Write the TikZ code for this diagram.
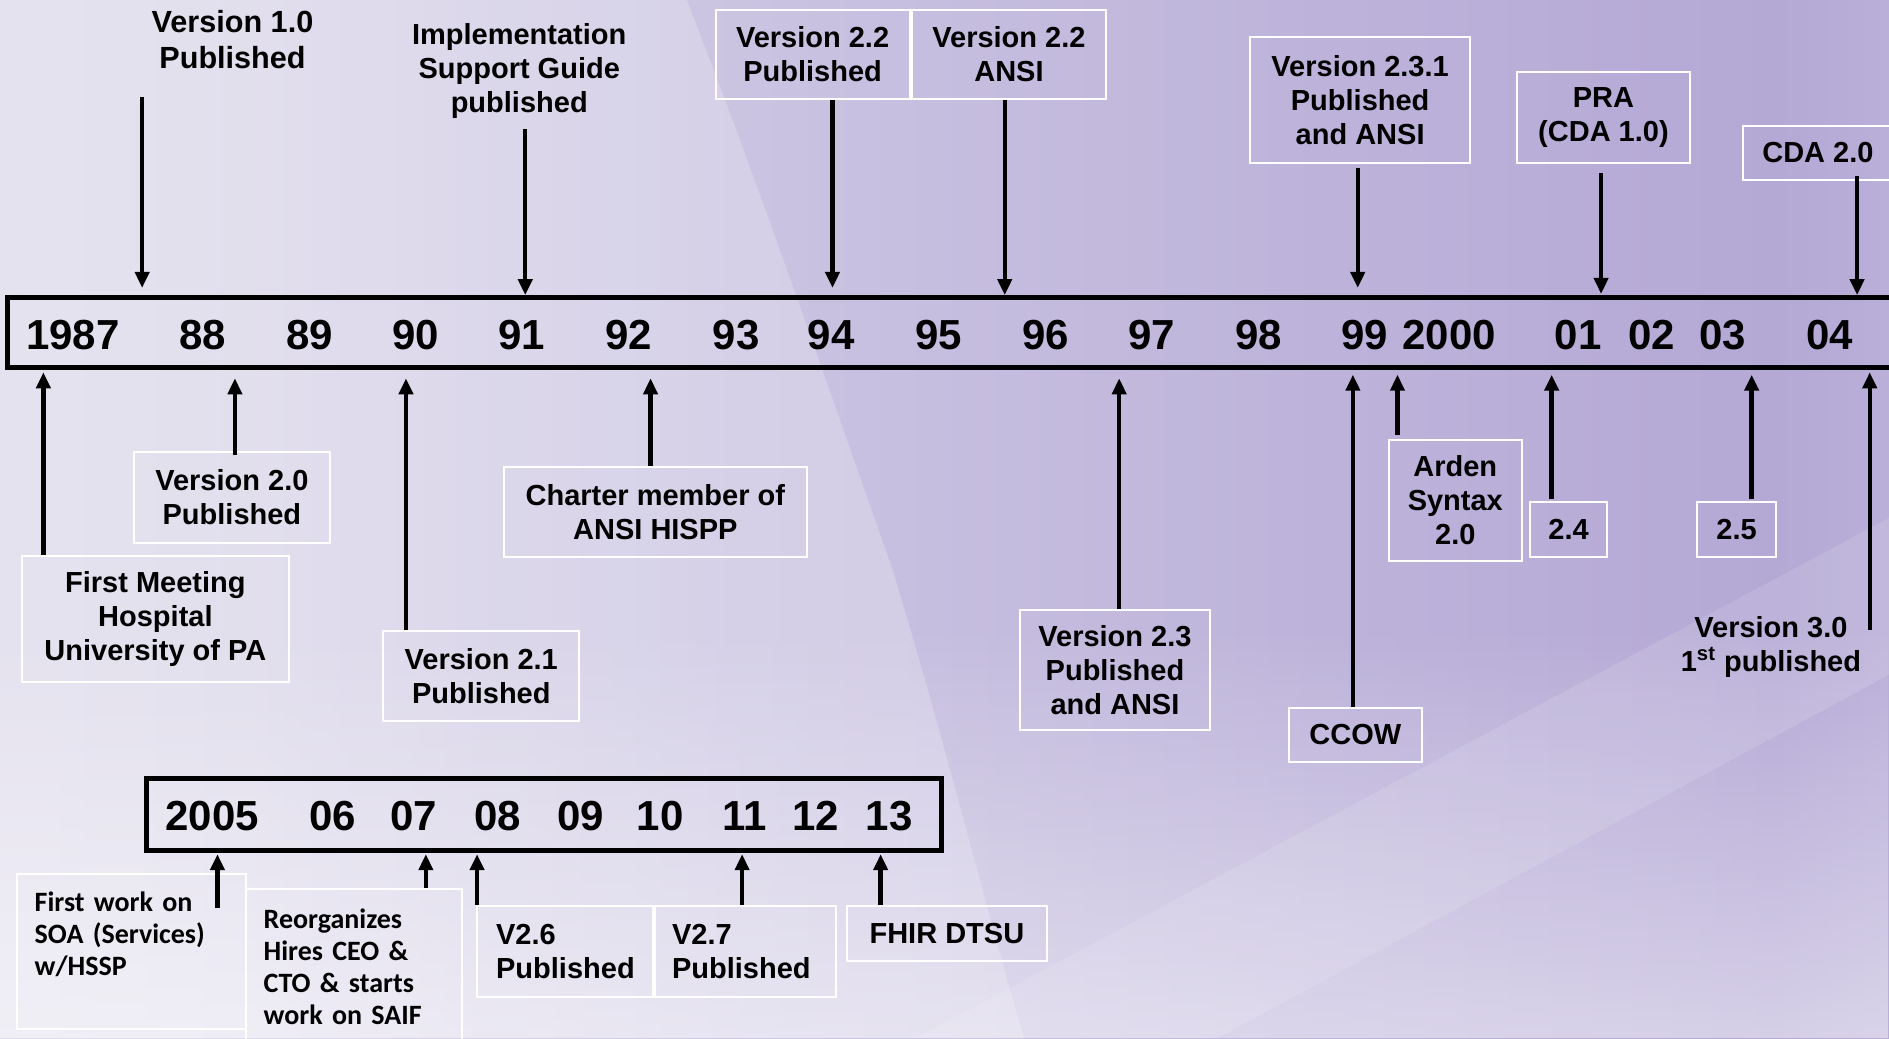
\documentclass[tikz,border=0pt]{standalone}
\usepackage{fontspec}
\setmainfont{Liberation Sans}
\newfontfamily\calfont{Carlito}
\usetikzlibrary{arrows.meta,positioning,calc,fadings}
\definecolor{WashA}{HTML}{E9E8F0}
\definecolor{WashB}{HTML}{DCD8EA}
\definecolor{WashC}{HTML}{CAC3E1}
\definecolor{WashD}{HTML}{BDB3DA}
\definecolor{WashE}{HTML}{B4A8D5}
\definecolor{WashF}{HTML}{C3BBDE}
\definecolor{WashG}{HTML}{D6D1E7}
\definecolor{WashH}{HTML}{DEDAEC}
\newlength{\pxu}
\setlength{\pxu}{0.6024pt}
\pgfdeclarehorizontalshading{wash}{100bp}{color(0bp)=(WashA); color(30bp)=(WashB); color(45bp)=(WashC); color(60bp)=(WashD); color(72bp)=(WashE); color(80bp)=(WashF); color(88bp)=(WashG); color(100bp)=(WashH)}
\tikzset{
 yearno/.style={font=\bfseries\fontsize{21}{24}\selectfont, inner sep=0pt},
 evtext/.style={font=\bfseries\fontsize{14.5}{17}\selectfont, align=center, inner sep=1pt},
 evbox/.style={evtext, draw=white, line width=1pt},
 notebox/.style={draw=white, line width=1pt, font=\calfont\bfseries\fontsize{14}{16}\selectfont, align=left, anchor=north west, inner xsep=15\pxu, inner ysep=0pt},
 tlbox/.style={draw=black, line width=2.5pt, outer sep=0pt},
 arr/.style={-{Triangle[length=8pt,width=7pt]}, line width=2.2pt}
}

\begin{document}
\begin{tikzpicture}[x=\pxu, y=-\pxu]
\useasboundingbox (0,0) rectangle (1568,862);
\clip (0,0) rectangle (1568,862);
\shade[shading=wash] (0,0) rectangle (1568,862);
\fill[white, opacity=0.22] (0,0) -- (570,0) .. controls (640,180) and (690,330) .. (740,470) .. controls (780,600) and (820,760) .. (850,862) -- (0,862) -- cycle;
\fill[white, opacity=0.45, path fading=north] (0,520) rectangle (1568,862);
\fill[white, opacity=0.12] (760,862) -- (1568,430) -- (1568,560) -- (1010,862) -- cycle;

% upper timeline
\node[tlbox, anchor=north west, minimum width=1640\pxu, minimum height=58\pxu] (tl) at (6,247) {};
\foreach \yr/\xx in {1987/60.5, 88/168, 89/257, 90/345, 91/433, 92/522, 93/611, 94/690, 95/779, 96/868, 97/956, 98/1045, 99/1133, 2000/1203, 01/1310, 02/1371, 03/1430, 04/1519}
  \node[yearno] (y\yr) at (\xx,278) {\yr};

% events above the line
\node[evtext, font=\bfseries\fontsize{15.3}{18}\selectfont] (v10) at (193,33) {Version 1.0\\Published};
\node[evtext] (isg) at (431,59) {Implementation\\Support Guide\\published};
\node[evbox, minimum width=161\pxu, minimum height=74\pxu] (v22p) at (674.5,45) {Version 2.2\\Published};
\node[evbox, minimum width=161\pxu, minimum height=74\pxu] (v22a) at (837.5,45) {Version 2.2\\ANSI};
\node[evbox, minimum width=183\pxu, minimum height=104\pxu] (v231) at (1129,83) {Version 2.3.1\\Published\\and ANSI};
\node[evbox, minimum width=144\pxu, minimum height=76\pxu] (pra) at (1331,97.5) {PRA\\(CDA 1.0)};
\node[evbox, minimum width=124\pxu, minimum height=45\pxu] (cda2) at (1509,127) {CDA 2.0};

\foreach \src/\xx/\yy/\gap in {v10/118/239/13, isg/436/245/4, v22p/691/239/0, v22a/834/245/0, v231/1127/239/2, pra/1329/244/4.5, cda2/1541.5/245/-2.5}{
  \coordinate (t-\src) at (\xx,\yy);
  \draw[arr, shorten <=\gap pt] (\src.south -| t-\src) -- (t-\src);
}

% events below the line
\node[evbox, minimum width=222\pxu, minimum height=105\pxu] (fm) at (129,514) {First Meeting\\Hospital\\University of PA};
\node[evbox, minimum width=163\pxu, minimum height=75\pxu] (v20) at (192.5,413) {Version 2.0\\Published};
\node[evbox, minimum width=163\pxu, minimum height=75\pxu] (v21) at (399.5,561) {Version 2.1\\Published};
\node[evbox, minimum width=252\pxu, minimum height=75\pxu] (chm) at (544,425) {Charter member of\\ANSI HISPP};
\node[evbox, minimum width=157\pxu, minimum height=100\pxu] (v23) at (925.5,556) {Version 2.3\\Published\\and ANSI};
\node[evbox, minimum width=110\pxu, minimum height=45\pxu] (ccow) at (1125,610) {CCOW};
\node[evbox, minimum width=110\pxu, minimum height=101\pxu] (ard) at (1208,415.5) {Arden\\Syntax\\2.0};
\node[evbox, minimum width=64\pxu, minimum height=45\pxu] (v24) at (1302,439.5) {2.4};
\node[evbox, minimum width=65\pxu, minimum height=45\pxu] (v25) at (1441.5,439.5) {2.5};
\node[evtext] (v30) at (1470,537) {Version 3.0\\1\textsuperscript{st} published};

\foreach \src/\xx/\yy/\gap in {fm/36/309/0, v20/195/314/-2, v21/337/314/0, chm/540/314/0, v23/929/314/0, ccow/1123/311/0, ard/1160/311/2, v24/1288/311/1, v25/1454/311/1, v30/1552/309/-8}{
  \coordinate (b-\src) at (\xx,\yy);
  \draw[arr, shorten <=\gap pt] (\src.north -| b-\src) -- (b-\src);
}

% lower timeline
\node[tlbox, minimum width=660\pxu, minimum height=60\pxu] (tl2) at (451.5,676) {};
\foreach \yr/\xx in {2005/176, 06/276, 07/343.5, 08/413, 09/482, 10/548, 11/618, 12/677, 13/738}
  \node[yearno] (z\yr) at (\xx,677) {\yr};

\node[notebox, text width=160\pxu, text height=30.5\pxu, text depth=97.5\pxu] (fw) at (13,725) {First work on\\SOA (Services)\\w/HSSP};
\node[notebox, text width=150\pxu, text height=32.5\pxu, text depth=160\pxu] (reo) at (203,737) {Reorganizes\\Hires CEO \&\\CTO \& starts\\work on SAIF};
\node[evbox, align=left, anchor=north west, text width=114\pxu, inner xsep=16\pxu, minimum height=76\pxu] (v26) at (395,751) {V2.6\\Published};
\node[evbox, align=left, anchor=north west, text width=122\pxu, inner xsep=14\pxu, minimum height=76\pxu] (v27) at (543,751) {V2.7\\Published};
\node[evbox, minimum width=166\pxu, minimum height=46\pxu] (fhir) at (786,775) {FHIR DTSU};

\foreach \src/\xx/\gap in {fw/180.5/-17.5, reo/353.5/0, v26/396/0, v27/616/0, fhir/731/0}{
  \coordinate (c-\src) at (\xx,709);
  \draw[arr, shorten <=\gap pt] (\src.north -| c-\src) -- (c-\src);
}
\end{tikzpicture}
\end{document}
